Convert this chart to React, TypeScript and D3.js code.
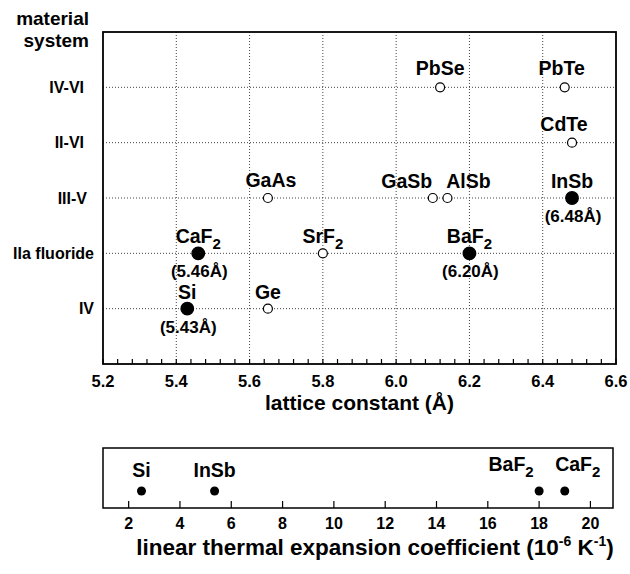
import React, { useRef, useEffect } from 'react';
import * as d3 from 'd3';

// material systems, bottom to top
const systems = ['IV', 'IIa fluoride', 'III-V', 'II-VI', 'IV-VI'];
const latticeTicks = ['5.2', '5.4', '5.6', '5.8', '6.0', '6.2', '6.4', '6.6'];

const materials = ['Si', 'Ge', 'CaF2', 'SrF2', 'BaF2', 'GaAs', 'GaSb', 'AlSb', 'InSb', 'CdTe', 'PbSe', 'PbTe'];
const materialSystem = ['IV', 'IV', 'IIa fluoride', 'IIa fluoride', 'IIa fluoride', 'III-V', 'III-V', 'III-V', 'III-V', 'II-VI', 'IV-VI', 'IV-VI'];
const latticeConst = [5.43, 5.65, 5.46, 5.80, 6.20, 5.65, 6.10, 6.14, 6.48, 6.48, 6.12, 6.46];
const isSubstrate = [true, false, true, false, true, false, false, false, true, false, false, false];
const latticeNotes = ['(5.43Å)', '', '(5.46Å)', '', '(6.20Å)', '', '', '', '(6.48Å)', '', '', ''];

const expMaterials = ['Si', 'InSb', 'BaF2', 'CaF2'];
const expCoeff = [2.5, 5.35, 18.0, 19.0];
const expTicks = [2, 4, 6, 8, 10, 12, 14, 16, 18, 20];

// hand placed label nudges [dx, dy] (the original was set by hand)
const labelNudge: Record<string, [number, number]> = {
  GaSb: [-26, 0], AlSb: [21, 0], CdTe: [-8, -2], PbTe: [-3, -2], PbSe: [0, -2], GaAs: [3, -1],
};
const expNudge: Record<string, [number, number]> = { BaF2: [-28, -6], CaF2: [13, -6] };
const sysLabelRight: Record<string, number> = { 'IV-VI': 84, 'II-VI': 84, 'III-V': 87, 'IIa fluoride': 94, 'IV': 94 };

const FONT = '"Liberation Sans", Arial, Helvetica, sans-serif';

// writes "CaF2" as CaF with a subscript 2
const formula = (sel, name, subSize) => {
  const m = name.match(/^(.*?)(\d)$/);
  if (!m) { sel.text(name); return; }
  sel.append('tspan').text(m[1]);
  sel.append('tspan').attr('dy', 6).style('font-size', `${subSize}px`).text(m[2]);
};

const App = () => {
  const ref = useRef(null);

  useEffect(() => {
    const svg = d3.select(ref.current);
    svg.selectAll('*').remove();
    svg.style('font-family', FONT).style('font-weight', 'bold');

    // ---------- lattice constant panel ----------
    const left = 103, right = 616, top = 32, bottom = 364;
    const x = d3.scaleLinear().domain([5.2, 6.6]).range([left, right]);
    const y = d3.scalePoint().domain(systems).range([bottom, top]).padding(1);

    const g = svg.append('g');

    // dotted grid
    g.selectAll('.vgrid')
      .data(latticeTicks.slice(1, -1))
      .enter().append('line')
      .attr('x1', d => x(+d)).attr('x2', d => x(+d))
      .attr('y1', top).attr('y2', bottom)
      .attr('stroke', '#444').attr('stroke-width', 1).attr('stroke-dasharray', '1,2');
    g.selectAll('.hgrid')
      .data(systems)
      .enter().append('line')
      .attr('x1', left).attr('x2', right)
      .attr('y1', d => y(d)).attr('y2', d => y(d))
      .attr('stroke', '#444').attr('stroke-width', 1).attr('stroke-dasharray', '1,2');

    // minor ticks along the bottom, pointing in
    g.selectAll('.minor')
      .data(d3.range(0, 36).map(i => 5.2 + i * 0.04))
      .enter().append('line')
      .attr('x1', d => x(d)).attr('x2', d => x(d))
      .attr('y1', bottom).attr('y2', bottom - 5)
      .attr('stroke', '#000').attr('stroke-width', 1.2);

    g.append('rect')
      .attr('x', left).attr('y', top)
      .attr('width', right - left).attr('height', bottom - top)
      .attr('fill', 'none').attr('stroke', '#000').attr('stroke-width', 1.8);

    // tick labels
    g.selectAll('.xlab')
      .data(latticeTicks)
      .enter().append('text')
      .attr('x', d => x(+d)).attr('y', 387)
      .attr('text-anchor', 'middle')
      .style('font-size', '16.5px')
      .text(d => d);

    g.selectAll('.ylab')
      .data(systems)
      .enter().append('text')
      .attr('x', d => sysLabelRight[d]).attr('y', d => y(d) + 5.5)
      .attr('text-anchor', 'end')
      .style('font-size', '16px')
      .text(d => d);

    const head = g.append('text').attr('text-anchor', 'end').style('font-size', '19px');
    head.append('tspan').attr('x', 89).attr('y', 24.5).text('material');
    head.append('tspan').attr('x', 89).attr('y', 46.5).text('system');

    g.append('text')
      .attr('x', (left + right) / 2).attr('y', 410)
      .attr('text-anchor', 'middle')
      .style('font-size', '21px')
      .text('lattice constant (Å)');

    // points
    materials.forEach((name, i) => {
      const cx = x(latticeConst[i]);
      const cy = y(materialSystem[i]);
      const filled = isSubstrate[i];
      g.append('circle')
        .attr('cx', cx).attr('cy', cy)
        .attr('r', filled ? 6.3 : 4.5)
        .attr('fill', filled ? '#000' : '#fff')
        .attr('stroke', '#000').attr('stroke-width', 1.2);

      const [dx, dy] = labelNudge[name] || [0, 0];
      const t = g.append('text')
        .attr('x', cx + dx).attr('y', cy - 10 + dy)
        .attr('text-anchor', 'middle')
        .style('font-size', '19.5px');
      formula(t, name, 15);

      if (latticeNotes[i]) {
        g.append('text')
          .attr('x', cx + 1).attr('y', cy + 24)
          .attr('text-anchor', 'middle')
          .style('font-size', '17px')
          .text(latticeNotes[i]);
      }
    });

    // ---------- thermal expansion panel ----------
    const bTop = 448, bBottom = 508, bRight = 613;
    const xe = d3.scaleLinear().domain([1, 20.88]).range([left, bRight]);
    const b = svg.append('g');

    b.append('rect')
      .attr('x', left).attr('y', bTop)
      .attr('width', bRight - left).attr('height', bBottom - bTop)
      .attr('fill', 'none').attr('stroke', '#000').attr('stroke-width', 1.5);

    b.selectAll('.etick')
      .data(expTicks)
      .enter().append('line')
      .attr('x1', d => xe(d)).attr('x2', d => xe(d))
      .attr('y1', bBottom).attr('y2', bBottom - 7)
      .attr('stroke', '#000').attr('stroke-width', 1.2);

    b.selectAll('.elab')
      .data(expTicks)
      .enter().append('text')
      .attr('x', d => xe(d)).attr('y', 529)
      .attr('text-anchor', 'middle')
      .style('font-size', '16px')
      .text(d => d);

    expMaterials.forEach((name, i) => {
      const cx = xe(expCoeff[i]);
      b.append('circle').attr('cx', cx).attr('cy', 491).attr('r', 4.5).attr('fill', '#000');
      const [dx, dy] = expNudge[name] || [0, 0];
      const t = b.append('text')
        .attr('x', cx + dx).attr('y', 477 + dy)
        .attr('text-anchor', 'middle')
        .style('font-size', '19.5px');
      formula(t, name, 15);
    });

    const title = b.append('text')
      .attr('x', 375).attr('y', 555)
      .attr('text-anchor', 'middle')
      .style('font-size', '22.5px');
    title.append('tspan').text('linear thermal expansion coefficient (10');
    title.append('tspan').attr('dy', -9).style('font-size', '14px').text('-6');
    title.append('tspan').attr('dy', 9).text(' K');
    title.append('tspan').attr('dy', -9).style('font-size', '14px').text('-1');
    title.append('tspan').attr('dy', 9).text(')');
  }, []);

  return (
    <svg
      ref={ref}
      width={630}
      height={574}
      style={{ position: 'absolute', left: 0, top: 0, background: '#fff' }}
    />
  );
};

export default App;
